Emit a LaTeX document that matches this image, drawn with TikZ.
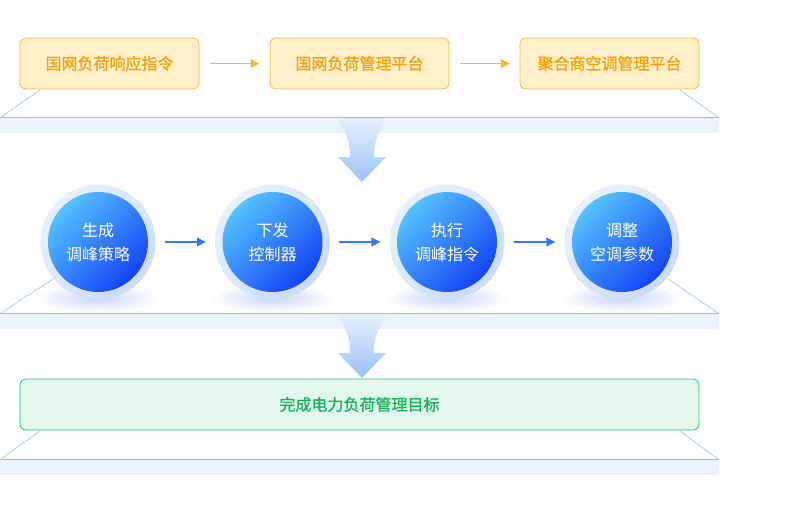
\documentclass[tikz,border=0pt]{standalone}
\usepackage{fontspec}
\setmainfont{Noto Sans CJK SC}
\newfontfamily\medfont{Noto Sans CJK SC}[FakeBold=1.2]
\usetikzlibrary{arrows.meta,fadings}
\tikzfading[name=softshadow, inner color=transparent!0, outer color=transparent!100]
\definecolor{yfill}{HTML}{FFF0C9}
\definecolor{yline}{HTML}{F7BA2C}
\definecolor{ytext}{HTML}{EFA30C}
\definecolor{gfill}{HTML}{E4F7EE}
\definecolor{gline}{HTML}{20C46E}
\definecolor{gtext}{HTML}{17B35C}
\definecolor{barrow}{HTML}{2F7BF5}
\definecolor{bandfill}{HTML}{EBF3FE}
\definecolor{bandline}{HTML}{92BDF2}
\definecolor{diag}{HTML}{A9CDF6}
\definecolor{clight}{HTML}{55C2FF}
\definecolor{cdark}{HTML}{1544F5}
\definecolor{rlight}{HTML}{E8F1FE}
\definecolor{rdark}{HTML}{CCDBFA}
\definecolor{shadowc}{HTML}{C9D7FB}
\definecolor{alight}{HTML}{E6F0FE}
\definecolor{adark}{HTML}{8EBBFA}
\tikzset{
  ybox/.style={draw=yline, fill=yfill, line width=0.8pt, rounded corners=6pt,
    minimum width=179pt, minimum height=51pt, inner sep=0pt, text=ytext,
    font=\fontsize{16}{18}\medfont},
  gbox/.style={draw=gline, fill=gfill, line width=0.8pt, rounded corners=6pt,
    minimum width=679pt, minimum height=51pt, inner sep=0pt, text=gtext,
    font=\fontsize{16}{18}\medfont},
  ring/.style={circle, minimum size=115pt, inner sep=0pt, top color=rlight,
    bottom color=rdark, shading angle=45, draw=none},
  core/.style={circle, minimum size=100pt, inner sep=0pt, top color=clight,
    bottom color=cdark, shading angle=45, draw=none, text=white, align=center,
    font=\fontsize{16}{24}\selectfont},
  oarrow/.style={draw=yline, line width=1.5pt, -{Triangle[length=9pt,width=9pt]},
    shorten <=11pt, shorten >=10pt},
  bluearrow/.style={draw=barrow, line width=1.5pt, -{Triangle[length=9pt,width=9pt]},
    shorten <=9pt, shorten >=9pt},
  diagline/.style={draw=diag, line width=0.8pt},
  downarrow/.style={top color=alight, bottom color=adark, opacity=0.9},
}
\begin{document}
\begin{tikzpicture}[x=1pt,y=-1pt]
\useasboundingbox (0,0) rectangle (786,506);
\fill[white] (0,0) rectangle (786,506);
% bands
\foreach \yy in {117,313,459}{
  \fill[bandfill] (0,\yy) rectangle (719,\yy+16);
  \draw[bandline, line width=0.8pt] (0,\yy) -- (719,\yy);
}
% diagonals
\draw[diagline] (40,90) -- (1,117);
\draw[diagline] (680,90) -- (718,117);
\draw[diagline] (53,279) -- (1,313);
\draw[diagline] (668,279) -- (718,313);
\draw[diagline] (40,431) -- (1,459);
\draw[diagline] (680,431) -- (718,459);
% down arrows
\foreach \yy in {118,314}{
  \shade[downarrow] (337,\yy) .. controls (346,\yy+16) and (350,\yy+22) .. (350,\yy+39)
    -- (338,\yy+39) -- (362,\yy+64) -- (386,\yy+39) -- (374,\yy+39)
    .. controls (374,\yy+22) and (378,\yy+16) .. (387,\yy) -- cycle;
}
% top row
\node[ybox] (a1) at (109.5,63.5) {国网负荷响应指令};
\node[ybox] (a2) at (359.5,63.5) {国网负荷管理平台};
\node[ybox] (a3) at (609.5,63.5) {聚合商空调管理平台};
\draw[oarrow] (a1) -- (a2);
\draw[oarrow] (a2) -- (a3);
% middle row
\foreach \xx in {98,272.5,447,622}{
  \fill[shadowc, path fading=softshadow] (\xx,298) ellipse [x radius=62pt, y radius=14pt];
}
\node[ring] (r1) at (98,242) {};
\node[ring] (r2) at (272.5,242) {};
\node[ring] (r3) at (447,242) {};
\node[ring] (r4) at (622,242) {};
\node[core] (c1) at (98,242) {生成\\调峰策略};
\node[core] (c2) at (272.5,242) {下发\\控制器};
\node[core] (c3) at (447,242) {执行\\调峰指令};
\node[core] (c4) at (622,242) {调整\\空调参数};
\draw[bluearrow] (r1) -- (r2);
\draw[bluearrow] (r2) -- (r3);
\draw[bluearrow] (r3) -- (r4);
% bottom
\node[gbox] (g) at (359.5,404.5) {完成电力负荷管理目标};
\end{tikzpicture}
\end{document}
